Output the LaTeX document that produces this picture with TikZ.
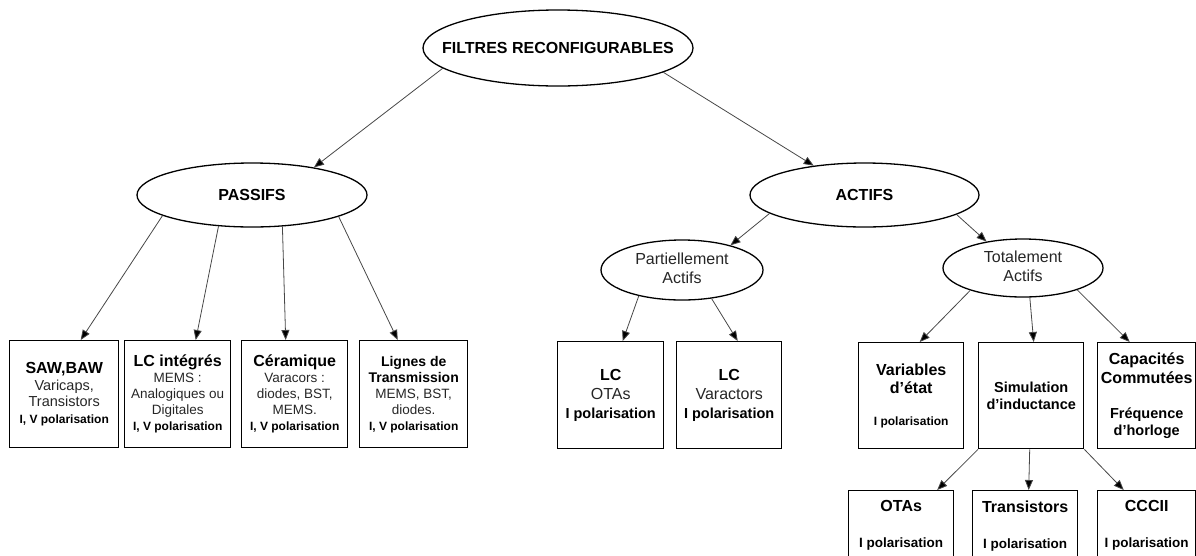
\documentclass[tikz,border=0pt]{standalone}
\usepackage{fontspec}
\setmainfont{Liberation Sans}
\usetikzlibrary{arrows.meta,shapes.geometric}

\newcommand\fsz[2]{\fontsize{#1}{#2}\selectfont}

\begin{document}
\begin{tikzpicture}[x=1pt,y=-1pt,
  oval/.style={ellipse, draw=black, line width=1.3pt, inner sep=0pt, fill=white},
  leaf/.style={rectangle, draw=black, line width=1.4pt, inner sep=0pt,
               align=center, anchor=north west, text=black},
  link/.style={draw=black!72, line width=0.8pt,
               -{Triangle[length=10pt,width=8pt,fill=black]}},
]
\useasboundingbox (0,0) rectangle (1196,555);
\clip (0,0) rectangle (1196,555);

% ---- ellipses ----
\node[oval, minimum width=270pt, minimum height=76pt] (top) at (558,48)
  {\makebox[0pt]{\bfseries\fsz{16}{19}FILTRES RECONFIGURABLES}};
\node[oval, minimum width=230pt, minimum height=64pt] (passifs) at (252,195)
  {\makebox[0pt]{\bfseries\fsz{16}{19}PASSIFS}};
\node[oval, minimum width=229pt, minimum height=64pt] (actifs) at (864.5,195)
  {\makebox[0pt]{\bfseries\fsz{16}{19}ACTIFS}};
\node[oval, minimum width=162pt, minimum height=60pt] (partiel) at (682,270)
  {\makebox[0pt]{\fsz{16}{19}\color{black!85}\begin{tabular}{@{}c@{}}Partiellement\\Actifs\end{tabular}}};
\node[oval, minimum width=160pt, minimum height=58pt] (total) at (1023,268)
  {\makebox[0pt]{\fsz{16}{19}\color{black!85}\begin{tabular}{@{}c@{}}Totalement\\Actifs\end{tabular}}};

% ---- passive branch ----
\node[leaf, minimum width=109pt, minimum height=107pt, font=\fsz{14.5}{16.5}] (b1) at (9,340)
  {{\bfseries\fsz{16}{19}SAW,BAW}\\{\color{black!85}Varicaps,}\\{\color{black!85}Transistors}\\{\bfseries\fsz{12}{14}I, V polarisation}};
\node[leaf, minimum width=106pt, minimum height=107pt, font=\fsz{13.5}{16}] (b2) at (124,340)
  {{\bfseries\fsz{16}{19}LC intégrés}\\{\color{black!85}MEMS :}\\{\color{black!85}Analogiques ou}\\{\color{black!85}Digitales}\\{\bfseries\fsz{12}{14}I, V polarisation}};
\node[leaf, minimum width=106pt, minimum height=107pt, font=\fsz{13.5}{16}] (b3) at (241,340)
  {{\bfseries\fsz{16}{19}Céramique}\\{\color{black!85}Varacors :}\\{\color{black!85}diodes, BST,}\\{\color{black!85}MEMS.}\\{\bfseries\fsz{12}{14}I, V polarisation}};
\node[leaf, minimum width=108pt, minimum height=107pt, font=\fsz{13.5}{16}] (b4) at (359,340)
  {{\bfseries\fsz{14}{16}Lignes de}\\{\bfseries\fsz{14}{16}Transmission}\\{\color{black!85}MEMS, BST,}\\{\color{black!85}diodes.}\\{\bfseries\fsz{12}{14}I, V polarisation}};

% ---- partially active branch ----
\node[leaf, minimum width=106pt, minimum height=107pt, font=\fsz{16}{19}] (p1) at (557,341)
  {{\bfseries LC}\\{\color{black!85}OTAs}\\{\bfseries\fsz{14.5}{17}I polarisation}};
\node[leaf, minimum width=105pt, minimum height=107pt, font=\fsz{16}{19}] (p2) at (676,341)
  {{\bfseries LC}\\{\color{black!85}Varactors}\\{\bfseries\fsz{14.5}{17}I polarisation}};

% ---- fully active branch ----
\node[leaf, minimum width=105pt, minimum height=106pt, font=\bfseries\fsz{16}{18}] (t1) at (858,342)
  {Variables\\d’état\\[14pt]{\fsz{12}{14}I polarisation}};
\node[leaf, minimum width=105pt, minimum height=106pt, font=\bfseries\fsz{14.5}{17}] (t2) at (978,342)
  {Simulation\\d’inductance};
\node[leaf, minimum width=98pt, minimum height=106pt, font=\bfseries\fsz{16}{19}] (t3) at (1097,342)
  {Capacités\\Commutées\\[16pt]{\fsz{14.5}{17}Fréquence}\\[-2pt]{\fsz{14.5}{17}d’horloge}};

% ---- inductance simulation variants ----
\node[leaf, minimum width=105pt, minimum height=70pt, font=\bfseries\fsz{16}{18}] (s1) at (848,490)
  {OTAs\\[18pt]{\fsz{13.5}{16}I polarisation}};
\node[leaf, minimum width=105pt, minimum height=70pt, font=\bfseries\fsz{16}{18}] (s2) at (972,490)
  {Transistors\\[18pt]{\fsz{13.5}{16}I polarisation}};
\node[leaf, minimum width=98pt, minimum height=70pt, font=\bfseries\fsz{16}{18}] (s3) at (1097,490)
  {CCCII\\[18pt]{\fsz{13.5}{16}I polarisation}};

% ---- connectors ----
\draw[link] (top.190.8) -- (passifs.24.7);
\draw[link] (top.347) -- (actifs.150.3);

\draw[link] (passifs.193) -- ([xshift=16.5pt]b1.north);
\draw[link] (passifs.223.3) -- ([xshift=18pt]b2.north);
\draw[link] (passifs.314) -- ([xshift=-9pt]b3.north);
\draw[link] (passifs.346) -- ([xshift=-16pt]b4.north);

\draw[link] (actifs.191.7) -- (partiel.27.5);
\draw[link] (actifs.348) -- (total.144.2);

\draw[link] (partiel.211.8) -- ([xshift=12pt]p1.north);
\draw[link] (partiel.316) -- ([xshift=8.5pt]p2.north);

\draw[link] (total.203.2) -- ([xshift=8.5pt]t1.north);
\draw[link] (total.283.6) -- ([xshift=2.5pt]t2.north);
\draw[link] (total.338.9) -- ([xshift=-17pt]t3.north);

\draw[link] (t2.south west) -- ([xshift=36pt]s1.north);
\draw[link] ([xshift=-1.5pt]t2.south) -- ([xshift=3.5pt]s2.north);
\draw[link] (t2.south east) -- ([xshift=-23pt]s3.north);
\end{tikzpicture}
\end{document}
